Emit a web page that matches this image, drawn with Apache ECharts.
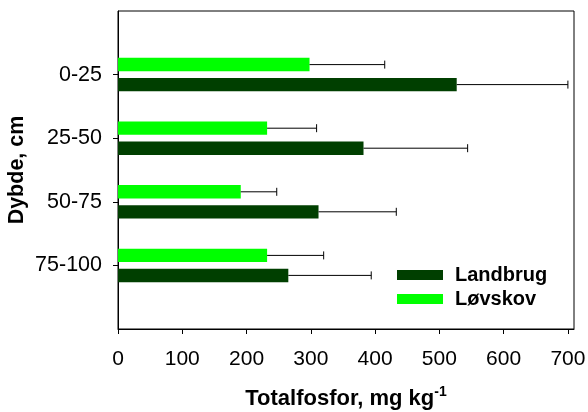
<!DOCTYPE html>
<html>
<head>
<meta charset="utf-8">
<script src="https://cdn.jsdelivr.net/npm/echarts@6/dist/echarts.min.js"></script>
<style>html,body{margin:0;padding:0;background:#fff;}#c{width:588px;height:412px;}</style>
</head>
<body>
<div id="c"></div>
<script>
const categories = ['', '0-25', '25-50', '50-75', '75-100', ''];
const xTicks = [0, 100, 200, 300, 400, 500, 600, 700];
const landbrug = [null, 527, 382, 312, 265, null];
const landbrugErr = [null, 700, 544, 433, 394, null];
const lovskov = [null, 298, 232, 191, 232, null];
const lovskovErr = [null, 415, 309, 247, 320, null];

function errData(vals, errs) {
  const out = [];
  vals.forEach((v, i) => { if (v != null) out.push([i, v, errs[i]]); });
  return out;
}
function errSeries(name, vals, errs, offset) {
  return {
    type: 'custom', name: name + ' err', silent: true, z: 5,
    encode: { x: [1, 2], y: 0 },
    data: errData(vals, errs),
    renderItem: function (params, api) {
      const a = api.coord([api.value(1), api.value(0)]);
      const b = api.coord([api.value(2), api.value(0)]);
      const y = a[1] + offset;
      return { type: 'group', children: [
        { type: 'line', shape: { x1: a[0], y1: y, x2: b[0], y2: y }, style: { stroke: '#000', lineWidth: 1 } },
        { type: 'line', shape: { x1: b[0], y1: y - 4, x2: b[0], y2: y + 4 }, style: { stroke: '#000', lineWidth: 1 } }
      ] };
    }
  };
}

const chart = echarts.init(document.getElementById('c'));
chart.setOption({
  animation: false,
  textStyle: { fontFamily: 'Liberation Sans, Arial, sans-serif' },
  grid: { left: 118, top: 11, width: 456, height: 318, show: true, borderColor: '#000', borderWidth: 1,
    containLabel: false, outerBoundsMode: 'none' },
  legend: {
    orient: 'vertical', left: 392, top: 260, itemWidth: 46, itemHeight: 10, itemGap: 4,
    icon: 'rect', data: ['Landbrug', 'Løvskov'],
    textStyle: { fontSize: 20, fontWeight: 'bold', color: '#000', padding: [0, 0, 0, 7] }
  },
  xAxis: {
    type: 'value', min: 0, max: 709.5, interval: 100,
    name: 'Totalfosfor, mg kg{sup|-1}', nameLocation: 'middle', nameGap: 56, nameMoveOverlap: false,
    nameTextStyle: { fontSize: 22, fontWeight: 'bold', color: '#000',
      rich: { sup: { fontSize: 14, fontWeight: 'bold', color: '#000', verticalAlign: 'bottom', padding: [0, 0, 14, 0] } } },
    axisLine: { show: true, lineStyle: { color: '#000' } },
    axisTick: { show: true, inside: false, length: 5, lineStyle: { color: '#000' }, customValues: xTicks },
    axisLabel: { fontSize: 21, color: '#000', margin: 20, customValues: xTicks },
    splitLine: { show: false }
  },
  yAxis: {
    type: 'category', data: categories, inverse: true, boundaryGap: false,
    name: 'Dybde, cm', nameLocation: 'middle', nameGap: 90, nameRotate: 90, nameMoveOverlap: false,
    nameTextStyle: { fontSize: 21.5, fontWeight: 'bold', color: '#000' },
    axisLine: { show: true, lineStyle: { color: '#000' } },
    axisTick: { show: true, inside: false, length: 5, lineStyle: { color: '#000' },
      interval: function (i) { return i > 0 && i < categories.length - 1; } },
    axisLabel: { fontSize: 21.5, color: '#000', margin: 16, interval: 0 },
    splitLine: { show: false }
  },
  series: [
    { type: 'bar', name: 'Løvskov', data: lovskov, barWidth: 13.4, barGap: '50%', itemStyle: { color: '#00ff00' } },
    { type: 'bar', name: 'Landbrug', data: landbrug, barWidth: 13.4, barGap: '50%', itemStyle: { color: '#003f00' } },
    errSeries('Løvskov', lovskov, lovskovErr, -10),
    errSeries('Landbrug', landbrug, landbrugErr, 10)
  ]
});
</script>
</body>
</html>
